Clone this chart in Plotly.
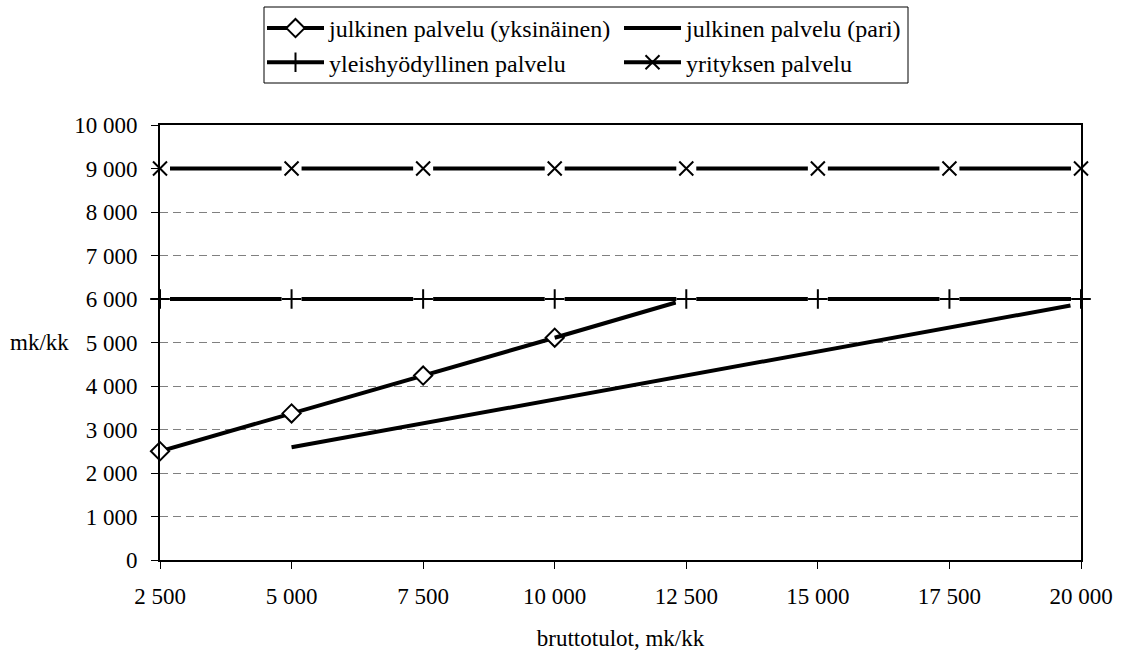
import plotly.graph_objects as go

# ---- data ----
x_ticks = [2500, 5000, 7500, 10000, 12500, 15000, 17500, 20000]
x_ticklabels = ["2 500", "5 000", "7 500", "10 000", "12 500", "15 000", "17 500", "20 000"]
y_ticks = [0, 1000, 2000, 3000, 4000, 5000, 6000, 7000, 8000, 9000, 10000]
y_ticklabels = ["0", "1 000", "2 000", "3 000", "4 000", "5 000", "6 000", "7 000", "8 000", "9 000", "10 000"]

yks_x = [2500, 5000, 7500, 10000, 12300]
yks_y = [2500, 3370, 4240, 5110, 5920]

pari_x = [5000, 7500, 10000, 12500, 15000, 17500, 19800]
pari_y = [2590, 3140, 3690, 4240, 4790, 5340, 5850]

yleis_x = [2500, 5000, 7500, 10000, 12500, 15000, 17500, 20000]
yleis_y = [6000, 6000, 6000, 6000, 6000, 6000, 6000, 6000]

yrit_x = [2500, 5000, 7500, 10000, 12500, 15000, 17500, 20000]
yrit_y = [9000, 9000, 9000, 9000, 9000, 9000, 9000, 9000]

names = ["julkinen palvelu (yksinäinen)", "julkinen palvelu (pari)",
         "yleishyödyllinen palvelu", "yrityksen palvelu"]

FONT = "Liberation Serif, Times New Roman, serif"
FS = 23
W, H = 1123, 653
ML, MR, MT, MB = 160, 42, 125, 93
PW, PH = W - ML - MR, H - MT - MB

def px_x(p):
    return (p - ML) / PW

def px_y(p):
    return (H - MB - p) / PH

fig = go.Figure()

# yksinäinen: marker part (legend) + tail without marker
fig.add_trace(go.Scatter(
    x=yks_x[:4], y=yks_y[:4], mode="lines+markers", name=names[0],
    line=dict(color="black", width=4),
    marker=dict(symbol="diamond", size=14, color="white", line=dict(color="black", width=2)),
    cliponaxis=False, legendgroup="yks", legend="legend"))
fig.add_trace(go.Scatter(
    x=yks_x[3:], y=yks_y[3:], mode="lines", name=names[0], showlegend=False,
    line=dict(color="black", width=4), cliponaxis=False, legendgroup="yks"))

fig.add_trace(go.Scatter(
    x=pari_x, y=pari_y, mode="lines", name=names[1],
    line=dict(color="black", width=4), cliponaxis=False, legend="legend2"))

# yleishyödyllinen: line+markers (legend), white backing, markers on top
fig.add_trace(go.Scatter(
    x=yleis_x, y=yleis_y, mode="lines+markers", name=names[2],
    line=dict(color="black", width=4),
    marker=dict(symbol="cross-thin", size=14, color="black", line=dict(color="black", width=2)),
    cliponaxis=False, legendgroup="yl", legend="legend"))
fig.add_trace(go.Scatter(
    x=yleis_x, y=yleis_y, mode="markers", showlegend=False, hoverinfo="skip",
    marker=dict(symbol="square", size=20, color="white", line=dict(width=0)),
    cliponaxis=False, legendgroup="yl"))
fig.add_trace(go.Scatter(
    x=yleis_x, y=yleis_y, mode="markers", name=names[2], showlegend=False,
    marker=dict(symbol="cross-thin", size=14, color="black", line=dict(color="black", width=2)),
    cliponaxis=False, legendgroup="yl"))

# yrityksen
fig.add_trace(go.Scatter(
    x=yrit_x, y=yrit_y, mode="lines+markers", name=names[3],
    line=dict(color="black", width=4),
    marker=dict(symbol="x-thin", size=14, color="black", line=dict(color="black", width=2)),
    cliponaxis=False, legendgroup="yr", legend="legend2"))
fig.add_trace(go.Scatter(
    x=yrit_x, y=yrit_y, mode="markers", showlegend=False, hoverinfo="skip",
    marker=dict(symbol="square", size=20, color="white", line=dict(width=0)),
    cliponaxis=False, legendgroup="yr"))
fig.add_trace(go.Scatter(
    x=yrit_x, y=yrit_y, mode="markers", name=names[3], showlegend=False,
    marker=dict(symbol="x-thin", size=14, color="black", line=dict(color="black", width=2)),
    cliponaxis=False, legendgroup="yr"))

legend_common = dict(
    orientation="v", xanchor="left", yanchor="top",
    borderwidth=0, bgcolor="rgba(0,0,0,0)",
    font=dict(family=FONT, size=24, color="black"),
    traceorder="normal", tracegroupgap=0, itemwidth=57,
)

fig.update_layout(
    width=W, height=H,
    margin=dict(l=ML, r=MR, t=MT, b=MB, pad=0, autoexpand=False),
    paper_bgcolor="white", plot_bgcolor="white",
    font=dict(family=FONT, size=FS, color="black"),
    showlegend=True,
    legend=dict(x=px_x(262), y=px_y(6), **legend_common),
    legend2=dict(x=px_x(619), y=px_y(6), **legend_common),
    xaxis=dict(
        range=[2500, 20000], tickvals=x_ticks, ticktext=x_ticklabels,
        showgrid=False, zeroline=False, showline=True, linecolor="black", linewidth=2,
        mirror=True, ticks="outside", ticklen=7, tickwidth=1, tickcolor="black",
        ticklabelstandoff=7, automargin=False,
        title=dict(text="bruttotulot, mk/kk", standoff=22, font=dict(family=FONT, size=FS)),
    ),
    yaxis=dict(
        range=[0, 10000], tickvals=y_ticks, ticktext=y_ticklabels,
        showgrid=True, gridcolor="#808080", gridwidth=1, griddash="8px,5px",
        zeroline=False, showline=True, linecolor="black", linewidth=2,
        mirror=True, ticks="outside", ticklen=7, tickwidth=1, tickcolor="black",
        ticklabelstandoff=9, automargin=False,
    ),
    shapes=[dict(
        type="rect", xref="paper", yref="paper",
        x0=px_x(264), x1=px_x(908), y0=px_y(83), y1=px_y(7),
        line=dict(color="black", width=1), fillcolor="rgba(0,0,0,0)", layer="above")],
    annotations=[dict(
        text="mk/kk", xref="paper", yref="paper", x=px_x(39), y=px_y(342),
        xanchor="center", yanchor="middle", showarrow=False,
        font=dict(family=FONT, size=FS, color="black"))],
)

fig.write_html("out.html")
